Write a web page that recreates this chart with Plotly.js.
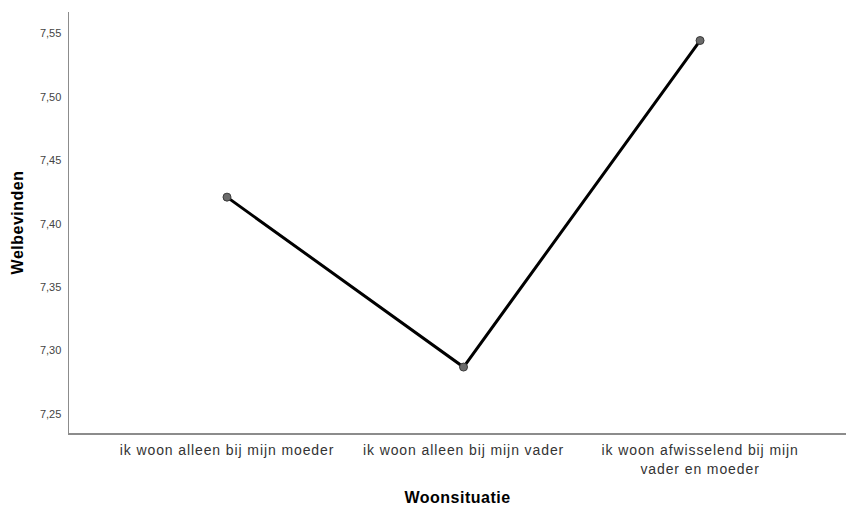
<!DOCTYPE html>
<html>
<head>
<meta charset="utf-8">
<script src="https://cdn.plot.ly/plotly-3.0.1.min.js"></script>
<style>
html,body{margin:0;padding:0;background:#fff;}
#chart{width:846px;height:509px;}
#chart .xtick text{letter-spacing:0.9px;}
#chart .xtitle, #chart .ytitle{letter-spacing:0.5px;}
</style>
</head>
<body>
<div id="chart"></div>
<script>
const categories = ["ik woon alleen bij mijn moeder", "ik woon alleen bij mijn vader", "ik woon afwisselend bij mijn<br>vader en moeder"];
const welbevinden = [7.421, 7.287, 7.5445];
const yTicks = [7.25, 7.30, 7.35, 7.40, 7.45, 7.50, 7.55];

const trace = {
  x: [0, 1, 2],
  y: welbevinden,
  type: 'scatter',
  mode: 'lines+markers',
  line: {color: '#000000', width: 3},
  marker: {size: 8, color: '#6b6b6b', line: {color: '#3a3a3a', width: 1}},
  hoverinfo: 'skip'
};

const layout = {
  width: 846, height: 509,
  margin: {l: 69, r: 0, t: 12, b: 76},
  paper_bgcolor: '#ffffff', plot_bgcolor: '#ffffff',
  separators: ',.',
  showlegend: false,
  font: {family: 'Liberation Sans, Arial, sans-serif', color: '#333333'},
  xaxis: {
    range: [-0.668, 2.617],
    tickmode: 'array', tickvals: [0, 1, 2], ticktext: categories,
    showgrid: false, zeroline: false,
    showline: true, linecolor: '#8c8c8c', linewidth: 1.5,
    ticks: '', ticklabelstandoff: 4, tickfont: {size: 14, color: '#333333'},
    title: {text: 'Woonsituatie', font: {size: 16, color: '#000000', family: 'Liberation Sans, Arial, sans-serif', weight: 'bold'}, standoff: 16}
  },
  yaxis: {
    range: [7.235, 7.567],
    tickmode: 'array', tickvals: yTicks, tickformat: '.2f',
    showgrid: false, zeroline: false,
    showline: true, linecolor: '#8c8c8c', linewidth: 1.5,
    ticks: '', ticklabelstandoff: 4, tickfont: {size: 11, color: '#444444'},
    title: {text: 'Welbevinden', font: {size: 16, color: '#000000', family: 'Liberation Sans, Arial, sans-serif', weight: 'bold'}, standoff: 12}
  }
};

Plotly.newPlot('chart', [trace], layout, {displayModeBar: false, staticPlot: true});
</script>
</body>
</html>
